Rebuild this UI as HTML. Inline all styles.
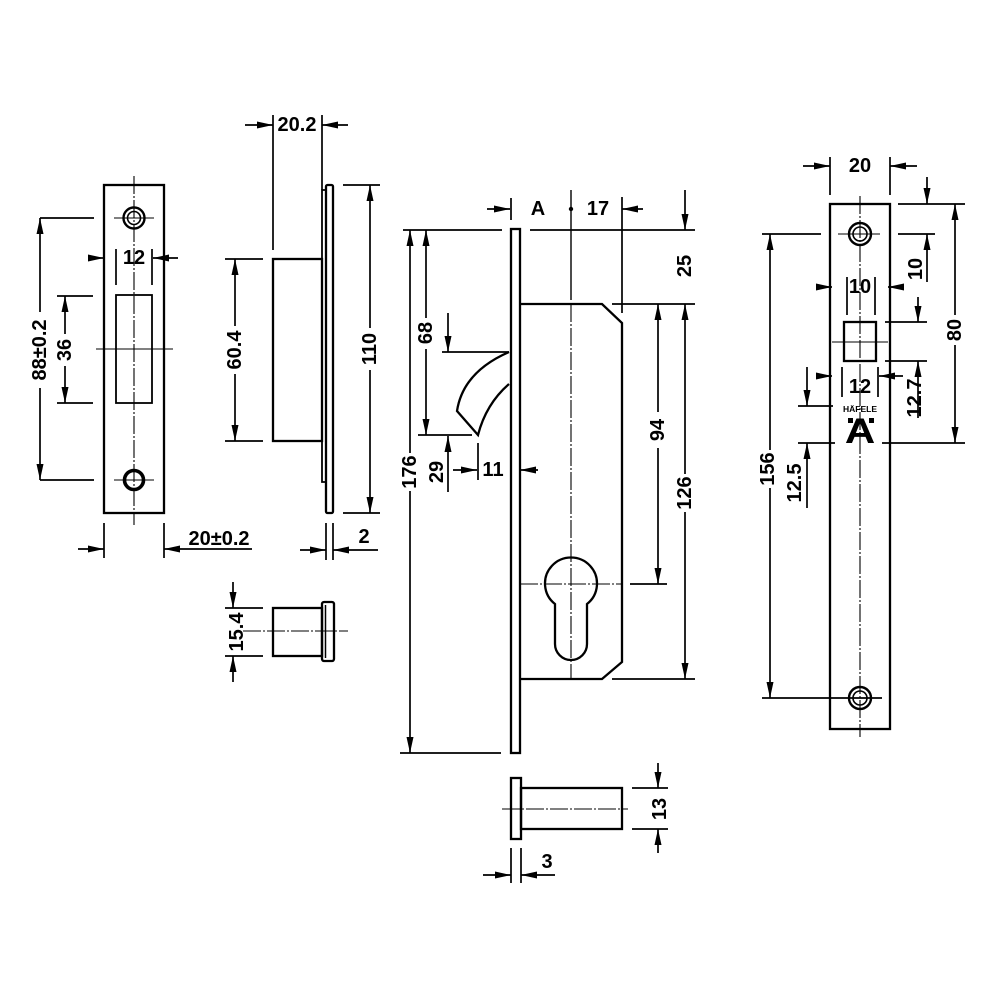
<!DOCTYPE html>
<html><head><meta charset="utf-8"><style>
html,body{margin:0;padding:0;background:#fff;}
svg{display:block;}
text{font-family:"Liberation Sans",Arial,sans-serif;font-weight:bold;fill:#000;}
</style></head><body>
<svg width="1000" height="1000" viewBox="0 0 1000 1000" xmlns="http://www.w3.org/2000/svg">
<defs>
<marker id="a" markerUnits="userSpaceOnUse" markerWidth="16" markerHeight="7" viewBox="0 0 16 7" refX="16" refY="3.5" orient="auto"><path d="M0,0 L16,3.5 L0,7 Z" fill="#000"/></marker>
</defs>
<rect width="1000" height="1000" fill="#fff"/>

<!-- ============ LEFT STRIKE PLATE ============ -->
<g fill="none" stroke="#000">
<rect x="104" y="185" width="60" height="328" stroke-width="2.3"/>
<line x1="134" y1="176" x2="134" y2="525" stroke-width="1.1" stroke-dasharray="18 2 2 2"/>
<circle cx="134" cy="218" r="10.5" stroke-width="2.4"/>
<circle cx="134" cy="218" r="6.5" stroke-width="1.6"/>
<line x1="114" y1="218" x2="154" y2="218" stroke-width="1.1"/>
<circle cx="134" cy="480" r="9.5" stroke-width="3.6"/>
<line x1="114" y1="480" x2="154" y2="480" stroke-width="1.1"/>
<rect x="116" y="295" width="36" height="108" stroke-width="1.8"/>
<line x1="96" y1="349" x2="173" y2="349" stroke-width="1.1"/>
</g>
<g stroke="#000" stroke-width="1.7" fill="none">
<!-- 88 -->
<line x1="40" y1="218" x2="94" y2="218"/><line x1="40" y1="480" x2="94" y2="480"/>
<line x1="40" y1="312" x2="40" y2="218" marker-end="url(#a)"/>
<line x1="40" y1="388" x2="40" y2="480" marker-end="url(#a)"/>
<!-- 36 -->
<line x1="57" y1="296" x2="93" y2="296"/><line x1="57" y1="403" x2="93" y2="403"/>
<line x1="65" y1="334" x2="65" y2="296" marker-end="url(#a)"/>
<line x1="65" y1="366" x2="65" y2="403" marker-end="url(#a)"/>
<!-- 12 -->
<line x1="116" y1="249" x2="116" y2="285"/><line x1="152" y1="249" x2="152" y2="285"/>
<line x1="88" y1="258" x2="104" y2="258" marker-end="url(#a)"/>
<line x1="178" y1="258" x2="153" y2="258" marker-end="url(#a)"/>
<!-- 20±0.2 -->
<line x1="104" y1="523" x2="104" y2="558"/><line x1="164" y1="523" x2="164" y2="558"/>
<line x1="78" y1="549" x2="104" y2="549" marker-end="url(#a)"/>
<line x1="252" y1="549" x2="164" y2="549" marker-end="url(#a)"/>
</g>
<text x="40" y="350" font-size="20" text-anchor="middle" dominant-baseline="central" transform="rotate(-90 40 350)">88±0.2</text>
<text x="65" y="350" font-size="20" text-anchor="middle" dominant-baseline="central" transform="rotate(-90 65 350)">36</text>
<text x="134" y="258" font-size="20" text-anchor="middle" dominant-baseline="central">12</text>
<text x="219" y="539" font-size="20" text-anchor="middle" dominant-baseline="central">20±0.2</text>

<!-- ============ SIDE VIEW ============ -->
<g fill="none" stroke="#000" stroke-width="2.3">
<rect x="326" y="185" width="7" height="328" rx="1.5"/>
<path d="M326,190 L322,190 L322,482 L326,482" stroke-width="1.8"/>
<rect x="273" y="259" width="49" height="182"/>
</g>
<g stroke="#000" stroke-width="1.7" fill="none">
<!-- 20.2 -->
<line x1="273" y1="115" x2="273" y2="250"/><line x1="322" y1="115" x2="322" y2="190"/>
<line x1="245" y1="125" x2="273" y2="125" marker-end="url(#a)"/>
<line x1="348" y1="125" x2="322" y2="125" marker-end="url(#a)"/>
<!-- 60.4 -->
<line x1="225" y1="259" x2="263" y2="259"/><line x1="225" y1="441" x2="263" y2="441"/>
<line x1="235" y1="326" x2="235" y2="259" marker-end="url(#a)"/>
<line x1="235" y1="374" x2="235" y2="441" marker-end="url(#a)"/>
<!-- 110 -->
<line x1="343" y1="185" x2="380" y2="185"/><line x1="343" y1="513" x2="380" y2="513"/>
<line x1="370" y1="328" x2="370" y2="185" marker-end="url(#a)"/>
<line x1="370" y1="370" x2="370" y2="513" marker-end="url(#a)"/>
<!-- 2 -->
<line x1="326" y1="523" x2="326" y2="560"/><line x1="333" y1="523" x2="333" y2="560"/>
<line x1="300" y1="550" x2="326" y2="550" marker-end="url(#a)"/>
<line x1="378" y1="550" x2="333" y2="550" marker-end="url(#a)"/>
</g>
<text x="297" y="125" font-size="20" text-anchor="middle" dominant-baseline="central">20.2</text>
<text x="235" y="350" font-size="20" text-anchor="middle" dominant-baseline="central" transform="rotate(-90 235 350)">60.4</text>
<text x="370" y="349" font-size="20" text-anchor="middle" dominant-baseline="central" transform="rotate(-90 370 349)">110</text>
<text x="364" y="537" font-size="20" text-anchor="middle" dominant-baseline="central">2</text>

<!-- ============ SMALL CYLINDER ============ -->
<g fill="none" stroke="#000" stroke-width="2.3">
<rect x="273" y="608" width="49" height="48"/>
<rect x="322" y="602" width="12" height="59" rx="2"/>
<line x1="325.5" y1="605" x2="325.5" y2="658" stroke-width="1.5"/>
<line x1="243" y1="631" x2="348" y2="631" stroke-width="1.1" stroke-dasharray="18 2 2 2"/>
</g>
<g stroke="#000" stroke-width="1.7" fill="none">
<line x1="225" y1="608" x2="263" y2="608"/><line x1="225" y1="656" x2="263" y2="656"/>
<line x1="233" y1="582" x2="233" y2="608" marker-end="url(#a)"/>
<line x1="233" y1="682" x2="233" y2="656" marker-end="url(#a)"/>
</g>
<text x="237" y="632" font-size="20" text-anchor="middle" dominant-baseline="central" transform="rotate(-90 237 632)">15.4</text>

<!-- ============ CENTER LOCK BODY ============ -->
<g fill="none" stroke="#000" stroke-width="2.3">
<rect x="511" y="229" width="9" height="524"/>
<path d="M520,304 L602,304 L622,323 L622,662 L602,679 L520,679"/>
<path d="M509,352 Q463,372 457,411 L478,435 Q486,404 509,384"/>
<path d="M555,604 A26,26 0 1 1 587,604 L587,644 A16,16 0 0 1 555,644 Z"/>
</g>
<g stroke="#000" fill="none">
<line x1="571" y1="190" x2="571" y2="300" stroke-width="1.4"/>
<line x1="571" y1="304" x2="571" y2="679" stroke-width="1.1" stroke-dasharray="18 2 2 2"/>
<line x1="520" y1="584" x2="622" y2="584" stroke-width="1.1" stroke-dasharray="18 2 2 2"/>
</g>
<circle cx="571" cy="209" r="2.2" fill="#000"/>
<g stroke="#000" stroke-width="1.7" fill="none">
<!-- A -->
<line x1="511" y1="198" x2="511" y2="220"/>
<line x1="487" y1="209" x2="510" y2="209" marker-end="url(#a)"/>
<!-- 17 -->
<line x1="622" y1="197" x2="622" y2="313"/>
<line x1="643" y1="209" x2="622" y2="209" marker-end="url(#a)"/>
<!-- top ext -->
<line x1="403" y1="230" x2="502" y2="230"/><line x1="530" y1="230" x2="695" y2="230"/>
<!-- 25 -->
<line x1="685" y1="190" x2="685" y2="230" marker-end="url(#a)"/>
<line x1="612" y1="304" x2="695" y2="304"/>
<!-- 94 -->
<line x1="658" y1="412" x2="658" y2="304" marker-end="url(#a)"/>
<line x1="658" y1="448" x2="658" y2="584" marker-end="url(#a)"/>
<line x1="630" y1="584" x2="667" y2="584"/>
<!-- 126 -->
<line x1="685" y1="474" x2="685" y2="304" marker-end="url(#a)"/>
<line x1="685" y1="512" x2="685" y2="679" marker-end="url(#a)"/>
<line x1="612" y1="679" x2="695" y2="679"/>
<!-- 176 -->
<line x1="410" y1="453" x2="410" y2="230" marker-end="url(#a)"/>
<line x1="410" y1="491" x2="410" y2="753" marker-end="url(#a)"/>
<line x1="400" y1="753" x2="501" y2="753"/>
<!-- 68 -->
<line x1="426" y1="318" x2="426" y2="230" marker-end="url(#a)"/>
<line x1="426" y1="349" x2="426" y2="435" marker-end="url(#a)"/>
<line x1="418" y1="435" x2="472" y2="435"/>
<!-- latch -->
<line x1="448" y1="313" x2="448" y2="352" marker-end="url(#a)"/>
<line x1="442" y1="352" x2="509" y2="352"/>
<!-- 29 -->
<line x1="448" y1="492" x2="448" y2="436" marker-end="url(#a)"/>
<!-- 11 -->
<line x1="478" y1="443" x2="478" y2="480"/>
<line x1="453" y1="470" x2="477" y2="470" marker-end="url(#a)"/>
<line x1="538" y1="470" x2="520" y2="470" marker-end="url(#a)"/>
</g>
<text x="538" y="209" font-size="20" text-anchor="middle" dominant-baseline="central">A</text>
<text x="598" y="209" font-size="20" text-anchor="middle" dominant-baseline="central">17</text>
<text x="685" y="266" font-size="20" text-anchor="middle" dominant-baseline="central" transform="rotate(-90 685 266)">25</text>
<text x="658" y="430" font-size="20" text-anchor="middle" dominant-baseline="central" transform="rotate(-90 658 430)">94</text>
<text x="685" y="493" font-size="20" text-anchor="middle" dominant-baseline="central" transform="rotate(-90 685 493)">126</text>
<text x="410" y="472" font-size="20" text-anchor="middle" dominant-baseline="central" transform="rotate(-90 410 472)">176</text>
<text x="426" y="333" font-size="20" text-anchor="middle" dominant-baseline="central" transform="rotate(-90 426 333)">68</text>
<text x="437" y="472" font-size="20" text-anchor="middle" dominant-baseline="central" transform="rotate(-90 437 472)">29</text>
<text x="493" y="470" font-size="20" text-anchor="middle" dominant-baseline="central">11</text>

<!-- ============ BOTTOM CYLINDER ============ -->
<g fill="none" stroke="#000" stroke-width="2.3">
<rect x="511" y="778" width="10" height="61"/>
<rect x="521" y="788" width="101" height="41"/>
<line x1="502" y1="809" x2="628" y2="809" stroke-width="1.1" stroke-dasharray="18 2 2 2"/>
</g>
<g stroke="#000" stroke-width="1.7" fill="none">
<line x1="632" y1="788" x2="668" y2="788"/><line x1="632" y1="829" x2="668" y2="829"/>
<line x1="658" y1="763" x2="658" y2="788" marker-end="url(#a)"/>
<line x1="658" y1="853" x2="658" y2="829" marker-end="url(#a)"/>
<line x1="511" y1="848" x2="511" y2="883"/><line x1="521" y1="848" x2="521" y2="883"/>
<line x1="483" y1="875" x2="511" y2="875" marker-end="url(#a)"/>
<line x1="555" y1="875" x2="521" y2="875" marker-end="url(#a)"/>
</g>
<text x="660" y="809" font-size="20" text-anchor="middle" dominant-baseline="central" transform="rotate(-90 660 809)">13</text>
<text x="547" y="862" font-size="20" text-anchor="middle" dominant-baseline="central">3</text>

<!-- ============ RIGHT FACE PLATE ============ -->
<g fill="none" stroke="#000" stroke-width="2.3">
<rect x="830" y="204" width="60" height="525"/>
<line x1="860" y1="196" x2="860" y2="737" stroke-width="1.1" stroke-dasharray="18 2 2 2"/>
<circle cx="860" cy="234" r="11" stroke-width="2.4"/>
<circle cx="860" cy="234" r="7" stroke-width="1.6"/>
<line x1="838" y1="234" x2="880" y2="234" stroke-width="1.1"/>
<circle cx="860" cy="698" r="11" stroke-width="2.4"/>
<circle cx="860" cy="698" r="7" stroke-width="1.6"/>
<line x1="838" y1="698" x2="880" y2="698" stroke-width="1.1"/>
<rect x="844" y="322" width="32" height="39"/>
<line x1="832" y1="342" x2="888" y2="342" stroke-width="1.1"/>
</g>
<g stroke="#000" stroke-width="1.7" fill="none">
<!-- 20 -->
<line x1="830" y1="157" x2="830" y2="195"/><line x1="890" y1="157" x2="890" y2="195"/>
<line x1="803" y1="166" x2="830" y2="166" marker-end="url(#a)"/>
<line x1="917" y1="166" x2="890" y2="166" marker-end="url(#a)"/>
<!-- 80 -->
<line x1="898" y1="204" x2="965" y2="204"/><line x1="882" y1="443" x2="965" y2="443"/>
<line x1="955" y1="315" x2="955" y2="204" marker-end="url(#a)"/>
<line x1="955" y1="345" x2="955" y2="443" marker-end="url(#a)"/>
<!-- 10 vertical -->
<line x1="927" y1="177" x2="927" y2="204" marker-end="url(#a)"/>
<line x1="898" y1="234" x2="935" y2="234"/>
<line x1="927" y1="282" x2="927" y2="234" marker-end="url(#a)"/>
<!-- 10 horizontal -->
<line x1="847" y1="277" x2="847" y2="315"/><line x1="875" y1="277" x2="875" y2="315"/>
<line x1="816" y1="287" x2="832" y2="287" marker-end="url(#a)"/>
<line x1="904" y1="287" x2="888" y2="287" marker-end="url(#a)"/>
<!-- 12.7 -->
<line x1="918" y1="297" x2="918" y2="322" marker-end="url(#a)"/>
<line x1="885" y1="322" x2="927" y2="322"/><line x1="885" y1="361" x2="927" y2="361"/>
<line x1="918" y1="418" x2="918" y2="361" marker-end="url(#a)"/>
<!-- 12 -->
<line x1="842" y1="367" x2="842" y2="397"/><line x1="878" y1="367" x2="878" y2="397"/>
<line x1="816" y1="376" x2="832" y2="376" marker-end="url(#a)"/>
<line x1="903" y1="376" x2="879" y2="376" marker-end="url(#a)"/>
<!-- 156 -->
<line x1="762" y1="234" x2="821" y2="234"/><line x1="762" y1="698" x2="882" y2="698"/>
<line x1="770" y1="450" x2="770" y2="234" marker-end="url(#a)"/>
<line x1="770" y1="488" x2="770" y2="698" marker-end="url(#a)"/>
<!-- 12.5 -->
<line x1="807" y1="367" x2="807" y2="406" marker-end="url(#a)"/>
<line x1="798" y1="406" x2="833" y2="406"/><line x1="798" y1="443" x2="835" y2="443"/>
<line x1="807" y1="508" x2="807" y2="443" marker-end="url(#a)"/>
</g>
<text x="860" y="166" font-size="20" text-anchor="middle" dominant-baseline="central">20</text>
<text x="955" y="330" font-size="20" text-anchor="middle" dominant-baseline="central" transform="rotate(-90 955 330)">80</text>
<text x="916" y="269" font-size="20" text-anchor="middle" dominant-baseline="central" transform="rotate(-90 916 269)">10</text>
<text x="860" y="287" font-size="20" text-anchor="middle" dominant-baseline="central">10</text>
<text x="915" y="398" font-size="20" text-anchor="middle" dominant-baseline="central" transform="rotate(-90 915 398)">12.7</text>
<text x="860" y="387" font-size="20" text-anchor="middle" dominant-baseline="central">12</text>
<text x="768" y="469" font-size="20" text-anchor="middle" dominant-baseline="central" transform="rotate(-90 768 469)">156</text>
<text x="795" y="483" font-size="20" text-anchor="middle" dominant-baseline="central" transform="rotate(-90 795 483)">12.5</text>
<text x="860" y="409" font-size="8.5" text-anchor="middle" dominant-baseline="central">HÄFELE</text>
<text x="860" y="443" font-size="35" text-anchor="middle" transform="translate(860 0) scale(1.2 1) translate(-860 0)">A</text>
<rect x="848" y="418" width="5" height="5" fill="#000"/>
<rect x="869" y="418" width="5" height="5" fill="#000"/>
</svg>
</body></html>
